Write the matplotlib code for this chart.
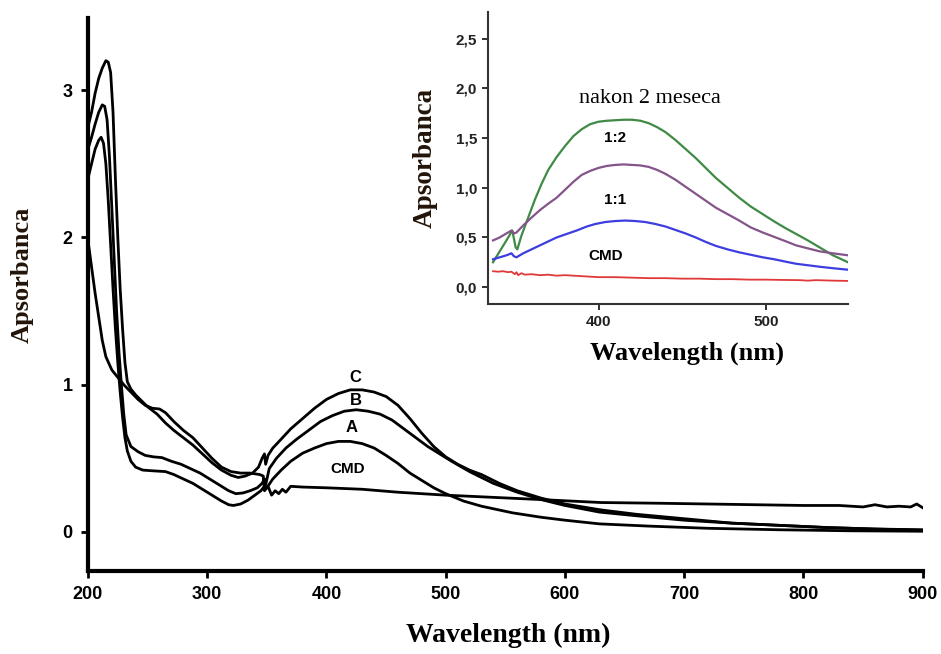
import numpy as np
import matplotlib
matplotlib.use('Agg')
import matplotlib.pyplot as plt
from matplotlib.ticker import FuncFormatter

# main spectra (wavelength nm, absorbance)
cmd_x = [200, 203, 206, 209, 212, 215, 220, 225, 230, 236, 242, 248, 254, 260, 265, 272, 280, 288, 296,
         304, 312, 320, 328, 336, 344, 347, 348, 351, 354, 357, 360, 363, 366, 370, 380, 400, 430, 460,
         500, 540, 580, 630, 680, 720, 760, 800, 830, 850, 860, 870, 880, 890, 895, 900]
cmd_y = [1.98, 1.80, 1.62, 1.46, 1.30, 1.19, 1.10, 1.05, 1.00, 0.95, 0.90, 0.86, 0.84, 0.835, 0.81, 0.75,
         0.69, 0.64, 0.57, 0.50, 0.44, 0.41, 0.40, 0.40, 0.39, 0.38, 0.28, 0.31, 0.25, 0.28, 0.26, 0.29,
         0.27, 0.31, 0.305, 0.30, 0.29, 0.27, 0.25, 0.235, 0.22, 0.20, 0.195, 0.19, 0.185, 0.18, 0.18,
         0.17, 0.185, 0.17, 0.175, 0.17, 0.19, 0.165]

a_x = [200, 203, 206, 209, 211, 213, 215, 217, 219, 221, 223, 225, 227, 229, 231, 233, 236, 240, 246, 255,
       265, 272, 280, 288, 296, 304, 312, 318, 322, 328, 334, 340, 345, 348, 350, 355, 362, 370, 380, 390,
       400, 410, 420, 430, 440, 450, 460, 470, 480, 490, 500, 515, 530, 556, 580, 600, 629, 670, 720, 780,
       840, 900]
a_y = [2.40, 2.50, 2.60, 2.66, 2.68, 2.64, 2.50, 2.25, 1.95, 1.65, 1.38, 1.15, 0.95, 0.78, 0.64, 0.55,
       0.48, 0.44, 0.42, 0.415, 0.41, 0.39, 0.36, 0.33, 0.29, 0.25, 0.21, 0.185, 0.18, 0.19, 0.215, 0.25,
       0.28, 0.31, 0.30, 0.36, 0.42, 0.48, 0.535, 0.57, 0.60, 0.615, 0.615, 0.60, 0.57, 0.52, 0.465, 0.40,
       0.35, 0.30, 0.26, 0.21, 0.175, 0.13, 0.10, 0.08, 0.055, 0.04, 0.025, 0.015, 0.008, 0.005]

b_x = [200, 203, 206, 209, 212, 214, 216, 218, 220, 222, 224, 226, 228, 230, 232, 236, 242, 248, 255, 262,
       270, 278, 286, 294, 302, 310, 318, 324, 330, 336, 342, 346, 348, 349, 352, 358, 366, 375, 385, 395,
       405, 415, 425, 435, 445, 455, 465, 475, 485, 495, 505, 520, 540, 560, 580, 600, 629, 660, 700, 740,
       780, 820, 860, 900]
b_y = [2.60, 2.68, 2.77, 2.85, 2.90, 2.89, 2.80, 2.55, 2.20, 1.85, 1.50, 1.22, 1.00, 0.80, 0.66, 0.58,
       0.545, 0.52, 0.51, 0.505, 0.48, 0.46, 0.43, 0.40, 0.36, 0.32, 0.28, 0.26, 0.265, 0.28, 0.30, 0.33,
       0.36, 0.32, 0.43, 0.50, 0.57, 0.63, 0.69, 0.75, 0.79, 0.82, 0.83, 0.82, 0.80, 0.76, 0.70, 0.64,
       0.58, 0.53, 0.48, 0.41, 0.33, 0.27, 0.22, 0.18, 0.135, 0.11, 0.08, 0.06, 0.045, 0.03, 0.02, 0.012]

c_x = [200, 203, 206, 209, 212, 215, 217, 219, 221, 223, 225, 227, 229, 231, 233, 236, 240, 245, 250, 258,
       265, 272, 280, 288, 296, 304, 312, 320, 326, 332, 338, 343, 346, 348, 349, 351, 355, 362, 370, 380,
       390, 400, 410, 420, 430, 440, 450, 460, 470, 480, 490, 500, 510, 520, 530, 545, 560, 580, 600, 630,
       660, 700, 740, 780, 820, 860, 900]
c_y = [2.75, 2.85, 2.98, 3.08, 3.15, 3.20, 3.19, 3.12, 2.85, 2.40, 2.00, 1.65, 1.38, 1.15, 1.02, 0.97,
       0.93, 0.89, 0.85, 0.80, 0.74, 0.69, 0.64, 0.59, 0.53, 0.47, 0.42, 0.385, 0.37, 0.38, 0.40, 0.44,
       0.50, 0.53, 0.46, 0.52, 0.57, 0.63, 0.70, 0.77, 0.84, 0.90, 0.94, 0.965, 0.965, 0.95, 0.92, 0.86,
       0.77, 0.67, 0.58, 0.51, 0.46, 0.42, 0.39, 0.33, 0.28, 0.23, 0.19, 0.15, 0.12, 0.09, 0.06, 0.045,
       0.03, 0.02, 0.015]

main_labels = ['C', 'B', 'A', 'CMD']
main_label_x = [424, 425, 421, 418]
main_label_y = [1.05, 0.89, 0.71, 0.43]
main_xticks = [200, 300, 400, 500, 600, 700, 800, 900]
main_yticks = [0, 1, 2, 3]

# inset: after 2 months
g_x = [337, 341, 345, 348.5, 350.5, 351.5, 354, 358, 362, 366, 370, 375, 380, 385, 390, 395, 400, 405,
       410, 415, 420, 425, 430, 435, 440, 446, 452, 458, 464, 470, 477, 484, 491, 498, 505, 512, 518,
       525, 532, 540, 549]
g_y = [0.25, 0.36, 0.47, 0.57, 0.40, 0.38, 0.52, 0.70, 0.88, 1.04, 1.18, 1.31, 1.42, 1.52, 1.59, 1.64,
       1.665, 1.675, 1.68, 1.685, 1.685, 1.675, 1.65, 1.61, 1.56, 1.48, 1.39, 1.30, 1.20, 1.10, 1.00,
       0.90, 0.81, 0.735, 0.66, 0.59, 0.535, 0.47, 0.40, 0.32, 0.25]

p_x = [337, 341, 345, 348, 349.5, 351, 355, 360, 365, 370, 375, 380, 385, 390, 395, 400, 405, 410, 415,
       420, 425, 430, 435, 440, 446, 452, 458, 464, 470, 477, 484, 491, 498, 505, 512, 518, 525, 532,
       540, 549]
p_y = [0.47, 0.50, 0.54, 0.57, 0.54, 0.55, 0.62, 0.70, 0.775, 0.84, 0.90, 0.98, 1.06, 1.13, 1.17, 1.20,
       1.22, 1.23, 1.235, 1.23, 1.225, 1.21, 1.18, 1.14, 1.08, 1.01, 0.94, 0.87, 0.80, 0.735, 0.67, 0.60,
       0.55, 0.505, 0.46, 0.42, 0.39, 0.36, 0.34, 0.32]

bl_x = [337, 341, 345, 348, 349.5, 351, 355, 360, 365, 370, 375, 381, 387, 393, 398, 404, 410, 416, 422,
        428, 434, 440, 446, 452, 458, 464, 470, 477, 484, 491, 498, 505, 512, 518, 525, 532, 540, 549]
bl_y = [0.28, 0.30, 0.32, 0.34, 0.31, 0.30, 0.34, 0.38, 0.42, 0.46, 0.50, 0.535, 0.57, 0.61, 0.635,
        0.655, 0.665, 0.67, 0.665, 0.655, 0.635, 0.61, 0.575, 0.54, 0.50, 0.455, 0.415, 0.38, 0.35, 0.325,
        0.30, 0.28, 0.255, 0.235, 0.22, 0.205, 0.19, 0.175]

r_x = [337, 340, 343, 346, 348, 350, 351, 352, 354, 356, 360, 365, 370, 375, 380, 390, 400, 410, 420,
       430, 440, 450, 460, 470, 480, 490, 500, 510, 520, 525, 530, 540, 549]
r_y = [0.16, 0.155, 0.16, 0.15, 0.155, 0.13, 0.15, 0.12, 0.14, 0.125, 0.13, 0.12, 0.125, 0.115, 0.12,
       0.11, 0.10, 0.10, 0.095, 0.09, 0.09, 0.085, 0.085, 0.08, 0.08, 0.075, 0.075, 0.072, 0.07, 0.065,
       0.07, 0.065, 0.062]

inset_labels = ['1:2', '1:1', 'CMD']
inset_label_x = [410, 410, 404.5]
inset_label_y = [1.50, 0.875, 0.31]
inset_xticks = [400, 500]
inset_yticks = [0.0, 0.5, 1.0, 1.5, 2.0, 2.5]

sans = 'Liberation Sans'
serif = 'Liberation Serif'
lab_col = '#221408'

fig = plt.figure(figsize=(9.41, 6.54), dpi=100)

# ---- main plot
ax = fig.add_axes([0.0935, 0.1269, 0.887, 0.8456])
for xs, ys in [(cmd_x, cmd_y), (a_x, a_y), (b_x, b_y), (c_x, c_y)]:
    ax.plot(xs, ys, color='black', lw=2.0, solid_joinstyle='round')
ax.set_xlim(200, 900)
ax.set_ylim(-0.265, 3.49)
ax.set_xticks(main_xticks)
ax.set_yticks(main_yticks)
ax.spines['top'].set_visible(False)
ax.spines['right'].set_visible(False)
ax.spines['left'].set_linewidth(3)
ax.spines['bottom'].set_linewidth(3)
ax.tick_params(direction='out', length=5, width=2, pad=6)
for t in ax.get_xticklabels() + ax.get_yticklabels():
    t.set_fontfamily(sans)
    t.set_fontweight('bold')
    t.set_fontsize(13)
for s, x, y in zip(main_labels, main_label_x, main_label_y):
    ax.text(x, y, s, ha='center', va='center', fontsize=12 if s != 'CMD' else 11,
            fontweight='bold', family=sans)

fig.text(0.540, 0.028, 'Wavelength (nm)', ha='center', va='center', fontsize=20,
         fontweight='bold', family=serif)
fig.text(0.0234, 0.5795, 'Apsorbanca', ha='center', va='center', rotation=90, fontsize=19,
         fontweight='bold', family=serif, color=lab_col)

# ---- inset
ins = fig.add_axes([0.5186, 0.5352, 0.3826, 0.4465])
ins.patch.set_alpha(0)
ins.plot(g_x, g_y, color='#3f8a45', lw=1.6)
ins.plot(p_x, p_y, color='#84548a', lw=1.6)
ins.plot(bl_x, bl_y, color='#3d3de0', lw=1.6)
ins.plot(r_x, r_y, color='#e0393a', lw=1.3)
ins.set_xlim(334, 549)
ins.set_ylim(-0.17, 2.77)
ins.set_xticks(inset_xticks)
ins.set_yticks(inset_yticks)
ins.yaxis.set_major_formatter(FuncFormatter(lambda v, p: ('%.1f' % v).replace('.', ',')))
ins.spines['top'].set_visible(False)
ins.spines['right'].set_visible(False)
ins.spines['left'].set_linewidth(1.5)
ins.spines['bottom'].set_linewidth(1.5)
ins.spines['left'].set_color('#333333')
ins.spines['bottom'].set_color('#333333')
ins.tick_params(direction='out', length=4, width=1.3, pad=4, colors='#222222')
for t in ins.get_xticklabels() + ins.get_yticklabels():
    t.set_fontfamily(sans)
    t.set_fontweight('bold')
    t.set_fontsize(11)
ins.text(431, 1.90, 'nakon 2 meseca', ha='center', va='center', fontsize=16, family=serif)
for s, x, y in zip(inset_labels, inset_label_x, inset_label_y):
    ins.text(x, y, s, ha='center', va='center', fontsize=11, fontweight='bold', family=sans)

fig.text(0.730, 0.4602, 'Wavelength (nm)', ha='center', va='center', fontsize=19,
         fontweight='bold', family=serif)
fig.text(0.4516, 0.7584, 'Apsorbanca', ha='center', va='center', rotation=90, fontsize=19.5,
         fontweight='bold', family=serif, color=lab_col)

fig.savefig('out.png', dpi=100)
